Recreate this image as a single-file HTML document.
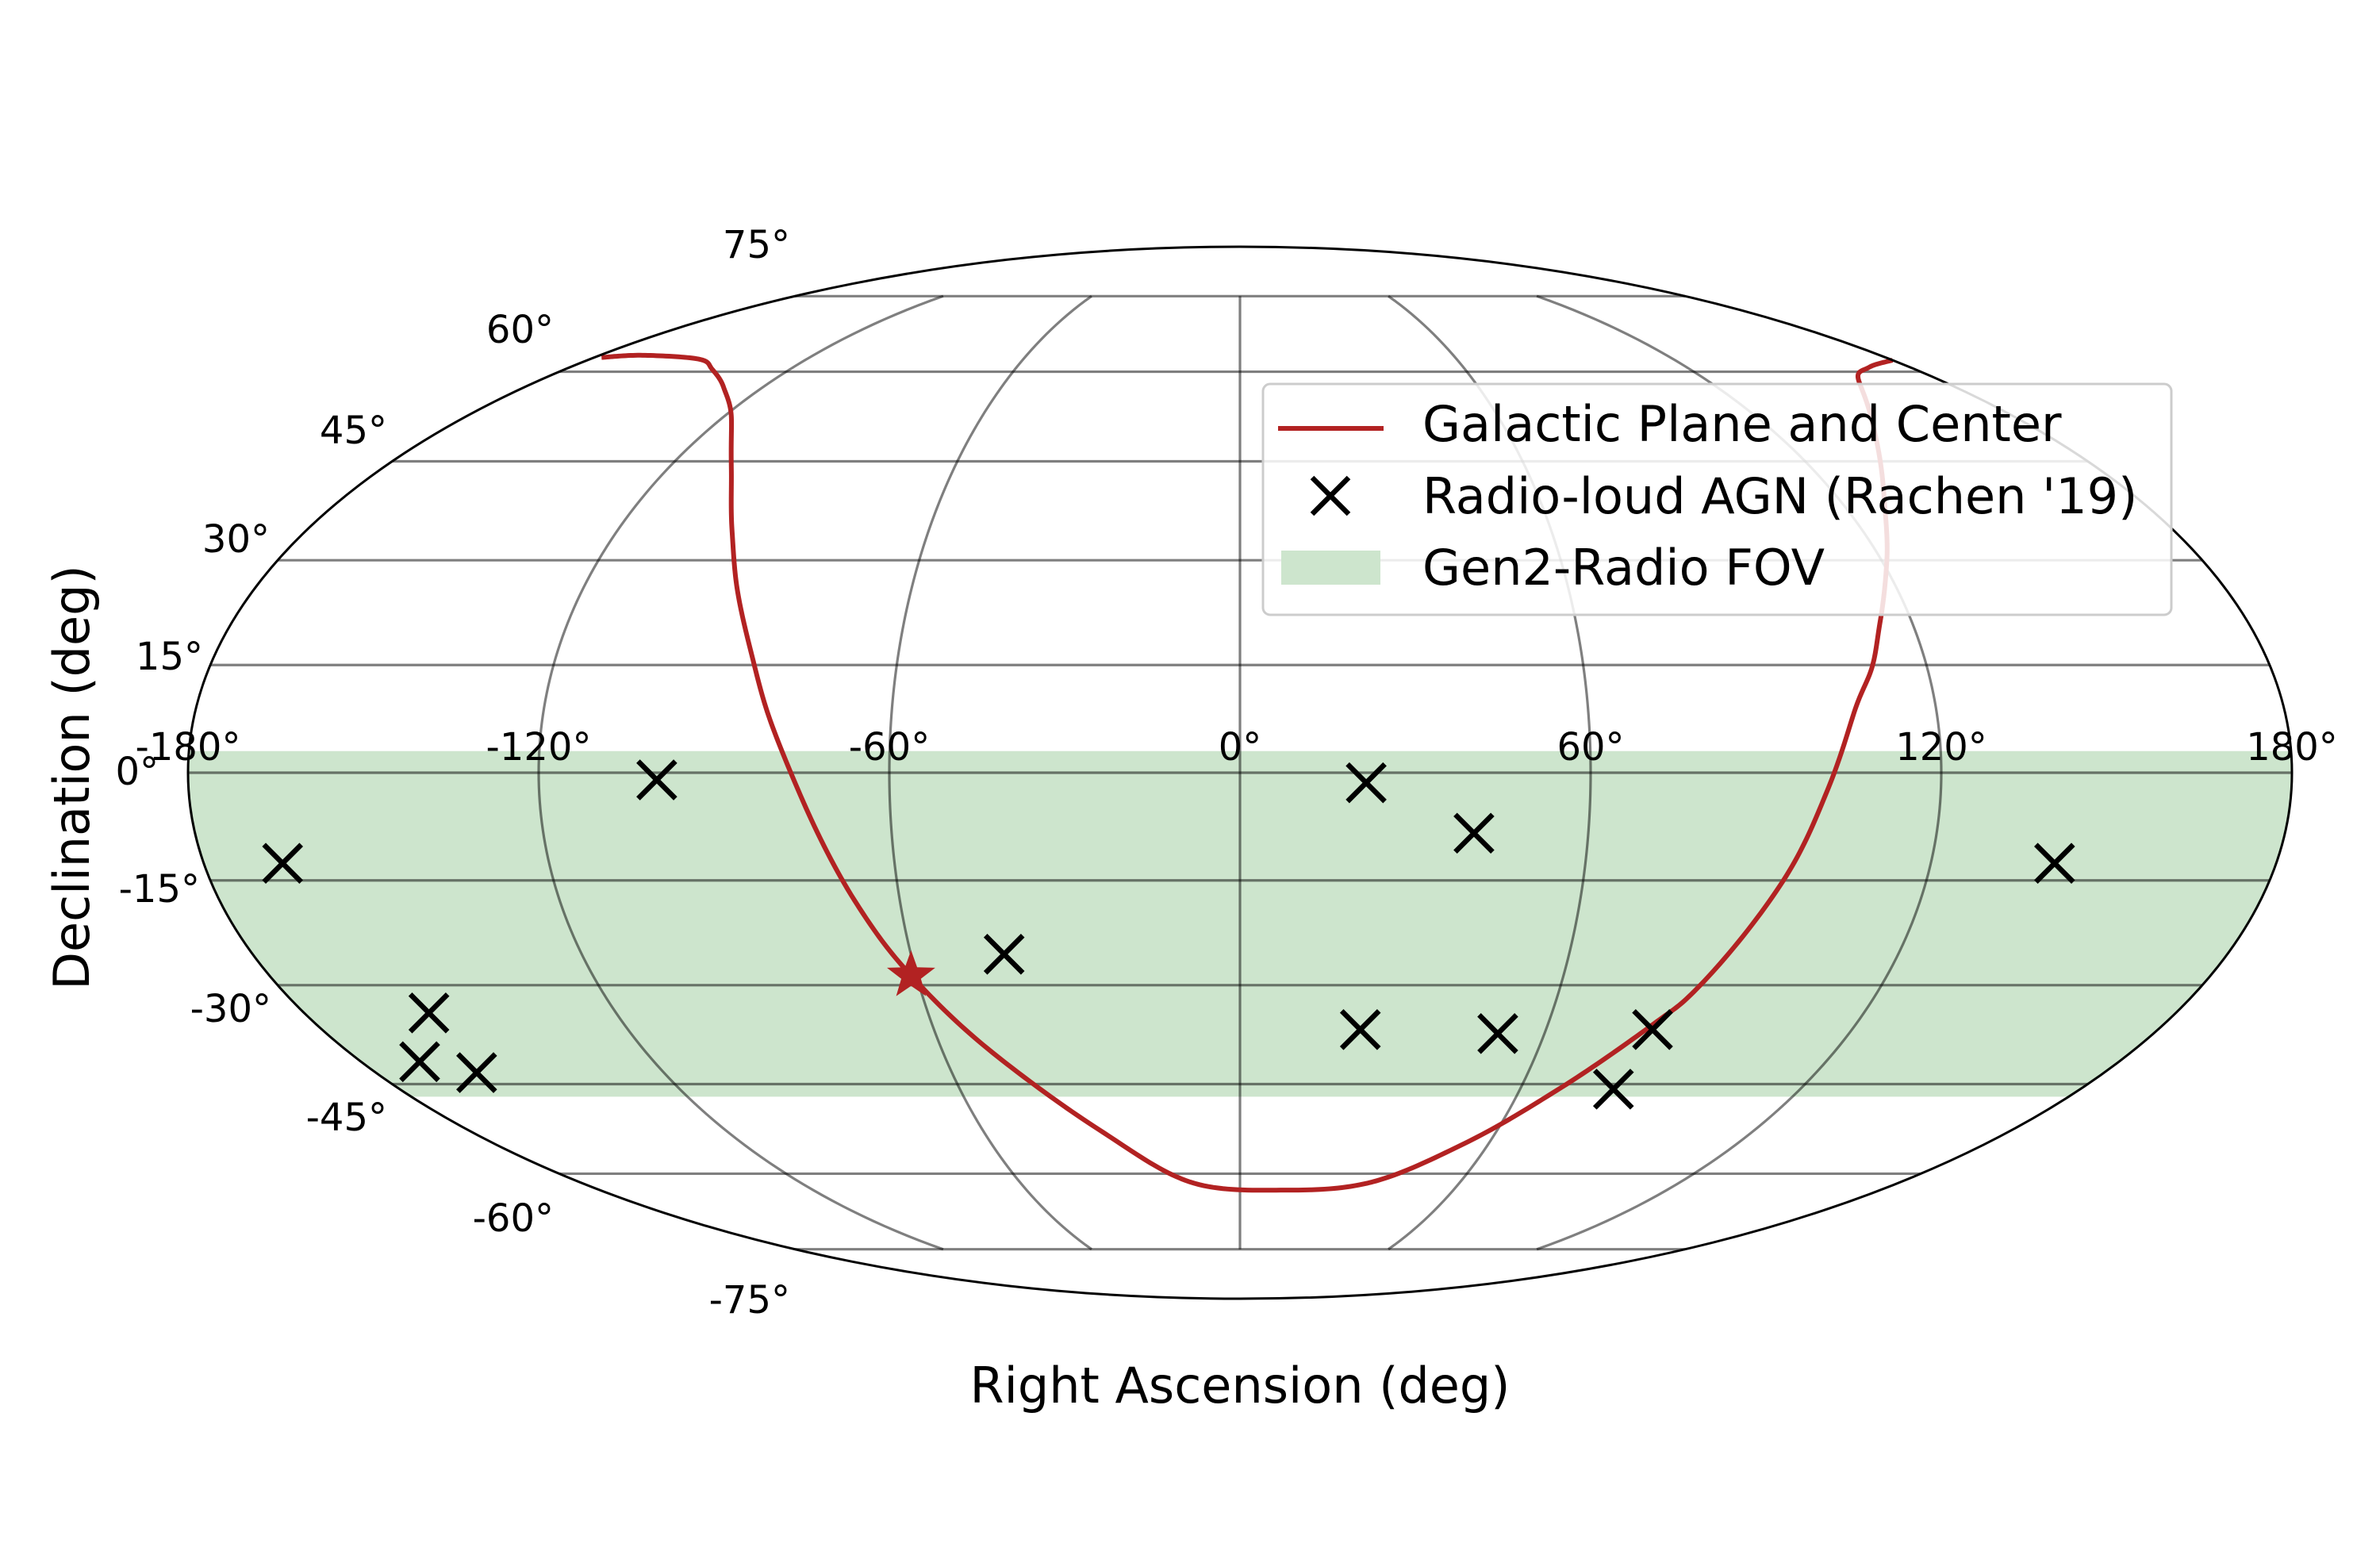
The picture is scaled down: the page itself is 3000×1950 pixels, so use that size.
<!DOCTYPE html>
<html><head><meta charset="utf-8"><style>
html,body{margin:0;padding:0;background:#fff;}
svg{display:block;font-family:"DejaVu Sans","Liberation Sans",sans-serif;}
</style></head><body>
<svg id="chart" width="3000" height="1950" viewBox="0 0 3000 1950" xmlns="http://www.w3.org/2000/svg">
<defs><clipPath id="ellClip"><ellipse cx="1563" cy="974" rx="1326" ry="663"/></clipPath></defs>
<g id="band" clip-path="url(#ellClip)"></g>
<g id="grid"></g>
<g id="plane"></g>
<g id="agn"></g>
<g id="star"></g>
<ellipse cx="1563" cy="974" rx="1326" ry="663" fill="none" stroke="#000" stroke-width="3"/>
<g id="lonLabels" font-size="48" text-anchor="middle"></g>
<g id="latLabels" font-size="48" text-anchor="end"></g>
<text x="1563" y="1768" font-size="62" text-anchor="middle">Right Ascension (deg)</text>
<text x="0" y="0" font-size="62" text-anchor="middle" transform="translate(112,980) rotate(-90)">Declination (deg)</text>
<g>
  <rect x="1592" y="484" width="1145" height="291" rx="9" fill="#fff" fill-opacity="0.85" stroke="#ccc" stroke-width="3"/>
  <line x1="1611" y1="540" x2="1744" y2="540" stroke="#b22222" stroke-width="6"/>
  <text x="1793" y="556" font-size="62">Galactic Plane and Center</text>
  <path d="M1654,602 L1700,648 M1700,602 L1654,648" stroke="#000" stroke-width="6.5"/>
  <text x="1793" y="647" font-size="62">Radio-loud AGN (Rachen '19)</text>
  <rect x="1615" y="694" width="125" height="43" fill="#cde5cd"/>
  <text x="1793" y="737" font-size="62">Gen2-Radio FOV</text>
</g>
</svg>
<script>
const agnRA  = [-166.3, -99.8, -156, -168, -159, -43, 21.6, 40.3, 23.6, 50.8, 80.9, 80, 141.5];
const agnDec = [-12.6, -1.0, -34.1, -41.5, -43.2, -25.5, -1.4, -8.4, -36.6, -37.2, -36.6, -45.8, -12.6];
const planeRA  = [-178,-168,-150,-141,-130,-118,-106.5,-98,-91.6,-86,-81.4,-76.4,-68,-61,-50,-33,-13.6,12.7,36,54,68,80.5,86.1,95,100.5,105.8,110.4,114.4,121,130,143,158.8,169,180];
const planeDec = [62.6,63,62.3,60.5,57.3,52.1,43.7,34.5,25.5,16.9,8.4,-0.9,-17.8,-28.6,-40.1,-52.3,-61.5,-63,-61.5,-54.8,-46,-35.8,-30,-15,-2.6,8.4,14.7,21.2,30,40,50,58.4,60.8,62.1];
const centerRA = [-61];
const centerDec = [-28.6];
const bandDec = [-47, 3];
const lonTicks = [-180,-120,-60,0,60,120,180];
const lonTickLabels = ["-180°","-120°","-60°","0°","60°","120°","180°"];
const latTicks = [75,60,45,30,15,0,-15,-30,-45,-60,-75];
const latTickLabels = ["75°","60°","45°","30°","15°","0°","-15°","-30°","-45°","-60°","-75°"];

const CX=1563, CY=974, A=1326, B=663;
const NS="http://www.w3.org/2000/svg";
function theta(lat){
  const phi=lat*Math.PI/180;
  if(Math.abs(lat)>=90) return Math.sign(lat)*Math.PI/2;
  let t=phi;
  for(let i=0;i<50;i++){const f=2*t+Math.sin(2*t)-Math.PI*Math.sin(phi);const d=2+2*Math.cos(2*t);if(Math.abs(d)<1e-9)break;t-=f/d;}
  return t;
}
function px(lon,lat){const t=theta(lat);return CX+A*(lon/180)*Math.cos(t);}
function py(lat){return CY-B*Math.sin(theta(lat));}
function mk(tag,parent){const e=document.createElementNS(NS,tag);parent.appendChild(e);return e;}
function pathFrom(pts){return pts.map((p,i)=>(i?'L':'M')+p[0].toFixed(2)+','+p[1].toFixed(2)).join(' ');}

(function(){
  const pts=[];const lo=bandDec[0],hi=bandDec[1];
  for(let l=-180;l<=180;l+=2)pts.push([px(l,hi),py(hi)]);
  for(let d=hi;d>=lo;d-=1)pts.push([px(180,d),py(d)]);
  for(let l=180;l>=-180;l-=2)pts.push([px(l,lo),py(lo)]);
  for(let d=lo;d<=hi;d+=1)pts.push([px(-180,d),py(d)]);
  const p=mk('path',document.getElementById('band'));
  
  
  p.setAttribute('d',pathFrom(pts)+'Z');p.setAttribute('fill','#cde5cd');
})();
(function(){
  const g=document.getElementById('grid');
  latTicks.forEach(lat=>{
    const pts=[];for(let l=-180;l<=180;l+=2)pts.push([px(l,lat),py(lat)]);
    const p=mk('path',g);
    
    
    p.setAttribute('d',pathFrom(pts));p.setAttribute('fill','none');p.setAttribute('stroke','#000');p.setAttribute('stroke-opacity','0.5');p.setAttribute('stroke-width','3.2');
  });
  [-120,-60,0,60,120].forEach(lon=>{
    const pts=[];for(let d=-75;d<=75;d+=1)pts.push([px(lon,d),py(d)]);
    const p=mk('path',g);
    
    
    p.setAttribute('d',pathFrom(pts));p.setAttribute('fill','none');p.setAttribute('stroke','#000');p.setAttribute('stroke-opacity','0.5');p.setAttribute('stroke-width','3.2');
  });
})();
(function(){
  const n=planeRA.length;const pts=[];
  const P=i=>[planeRA[Math.max(0,Math.min(n-1,i))],planeDec[Math.max(0,Math.min(n-1,i))]];
  for(let i=0;i<n-1;i++){
    const p0=P(i-1),p1=P(i),p2=P(i+1),p3=P(i+2);
    for(let k=0;k<20;k++){
      const t=k/20,t2=t*t,t3=t2*t;
      const c=j=>0.5*((2*p1[j])+(-p0[j]+p2[j])*t+(2*p0[j]-5*p1[j]+4*p2[j]-p3[j])*t2+(-p0[j]+3*p1[j]-3*p2[j]+p3[j])*t3);
      const lo=Math.max(-180,Math.min(180,c(0))),la=c(1);
      pts.push([px(lo,la),py(la)]);
    }
  }
  pts.push([px(planeRA[n-1],planeDec[n-1]),py(planeDec[n-1])]);
  const p=mk('path',document.getElementById('plane'));
  
  
  p.setAttribute('d',pathFrom(pts));p.setAttribute('fill','none');p.setAttribute('stroke','#b22222');p.setAttribute('stroke-width','6');p.setAttribute('stroke-linejoin','round');
})();
(function(){
  const g=document.getElementById('agn');const s=23.5;
  agnRA.forEach((r,i)=>{
    const x=px(r,agnDec[i]),y=py(agnDec[i]);
    const p=mk('path',g);
    
    
    p.setAttribute('d',`M${x-s},${y-s} L${x+s},${y+s} M${x+s},${y-s} L${x-s},${y+s}`);
    p.setAttribute('stroke','#000');p.setAttribute('stroke-width','6.5');
  });
})();
(function(){
  const g=document.getElementById('star');
  centerRA.forEach((r,i)=>{
    const x=px(r,centerDec[i]),y=py(centerDec[i]);const R=32,r2=13;const pts=[];
    for(let k=0;k<10;k++){const ang=-Math.PI/2+k*Math.PI/5;const rr=k%2?r2:R;pts.push([x+rr*Math.cos(ang),y+rr*Math.sin(ang)]);}
    const p=mk('path',g);
    
    
    p.setAttribute('d',pathFrom(pts)+'Z');p.setAttribute('fill','#b22222');
  });
})();
(function(){
  const g=document.getElementById('lonLabels');
  lonTicks.forEach((l,i)=>{
    const t=mk('text',g);
    
    
    t.setAttribute('x',px(l,0).toFixed(1));t.setAttribute('y','958');t.textContent=lonTickLabels[i];
  });
})();
(function(){
  const g=document.getElementById('latLabels');
  const rightX=[996,698,488,340,256,200,252,342,488,698,996];
  const midY=[308,415,542,679,827,972,1120,1271,1408,1535,1638];
  latTicks.forEach((d,i)=>{
    const t=mk('text',g);
    
    
    t.setAttribute('x',rightX[i]);t.setAttribute('y',midY[i]+17);t.textContent=latTickLabels[i];
  });
})();
</script>
</body></html>
